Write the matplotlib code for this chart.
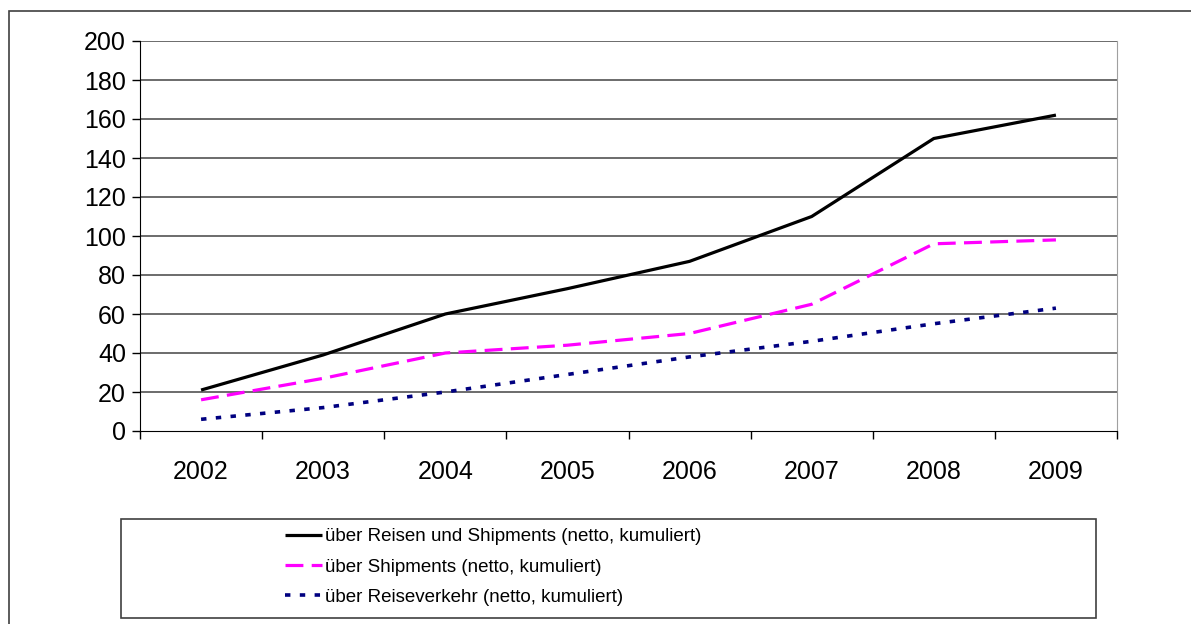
import matplotlib
matplotlib.use("Agg")
import matplotlib.pyplot as plt
from matplotlib.patches import Rectangle

years = ["2002", "2003", "2004", "2005", "2006", "2007", "2008", "2009"]
reisen_und_shipments = [21, 39, 60, 73, 87, 110, 150, 162]
shipments = [16, 27, 40, 44, 50, 65, 96, 98]
reiseverkehr = [6, 12, 20, 29, 38, 46, 55, 63]

labels = [
    "über Reisen und Shipments (netto, kumuliert)",
    "über Shipments (netto, kumuliert)",
    "über Reiseverkehr (netto, kumuliert)",
]

W, H = 1191, 624
plt.rcParams['font.family'] = ['Liberation Sans', 'DejaVu Sans']

fig = plt.figure(figsize=(W / 100, H / 100), dpi=100)
ax = fig.add_axes([140 / W, 1 - 431 / H, (1117 - 140) / W, (431 - 41) / H])

x = list(range(len(years)))
ax.plot(x, reisen_und_shipments, color="black", lw=2.3, label=labels[0],
        solid_capstyle="butt")
ax.plot(x, shipments, color="#ff00ff", lw=2.3, dashes=(5.6, 2.6), label=labels[1])
ax.plot(x, reiseverkehr, color="#000080", lw=2.6, dashes=(1.5, 2.6), label=labels[2])

ax.set_xlim(-0.5, len(years) - 0.5)
ax.set_ylim(0, 200)
ax.set_yticks(range(0, 201, 20))
for v in range(20, 201, 20):
    ax.axhline(v, color="#444444", lw=1.1, zorder=0)

ax.set_xticks(x)
ax.set_xticklabels(years)
ax.set_xticks([i - 0.5 for i in range(len(years) + 1)], minor=True)
ax.tick_params(axis="x", which="major", length=0, pad=21, labelsize=18)
ax.tick_params(axis="x", which="minor", length=6, width=1, direction="out")
ax.tick_params(axis="y", length=6, width=1, direction="out", pad=4, labelsize=18)

ax.spines["top"].set_visible(False)
ax.spines["right"].set_color("#a0a0a0")
ax.spines["left"].set_color("black")
ax.spines["bottom"].set_color("black")

# outer chart border (runs off the right and bottom edges)
fig.add_artist(Rectangle((8.5 / W, -0.05), 1.2, (H - 10.5) / H + 0.05,
                         transform=fig.transFigure, fill=False,
                         edgecolor="#404040", lw=1.2))

# legend box
fig.add_artist(Rectangle((121 / W, 1 - 618 / H), (1096 - 121) / W, (618 - 519) / H,
                         transform=fig.transFigure, fill=False,
                         edgecolor="#404040", lw=1.2))
handles, labs = ax.get_legend_handles_labels()
leg = fig.legend(handles, labs, loc="center left",
                 bbox_to_anchor=(285 / W, 1 - 567 / H), frameon=False,
                 prop={"size": 13.5},
                 handlelength=1.95, handletextpad=0.2, labelspacing=0.7,
                 borderpad=0, borderaxespad=0)

fig.savefig("out.png", dpi=100, facecolor="white")
